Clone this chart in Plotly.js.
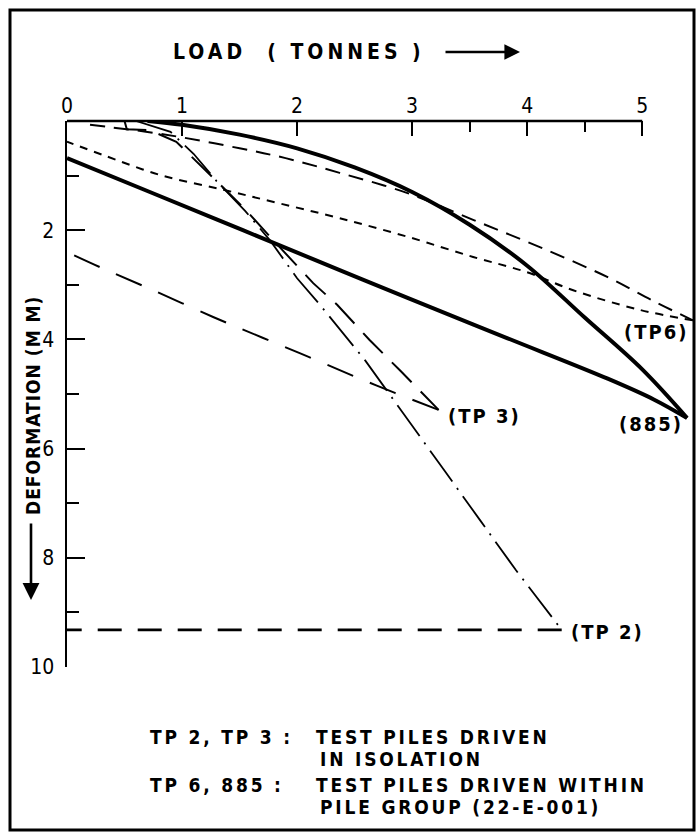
<!DOCTYPE html>
<html>
<head>
<meta charset="utf-8">
<script src="https://cdn.plot.ly/plotly-3.0.1.min.js"></script>
<style>
  html, body { margin: 0; padding: 0; background: #fff; }
  #chart { width: 698px; height: 833px; }
</style>
</head>
<body>
<div id="chart"></div>
<script>
// ---------------- data (load in tonnes, deformation in mm) ----------------
const xTickVals = [0, 1, 2, 3, 4, 5];
const xTickText = ['0', '1', '2', '3', '4', '5'];
const xMinorVals = [3.5, 4.5];
const yTickVals = [2, 4, 6, 8, 10];
const yTickText = ['2', '4', '6', '8', '10'];
const yMinorVals = [1, 3, 5, 7, 9];

// Pile 885 (within group) - loading and unloading
const load885Up   = [0.70, 1.00, 1.50, 2.00, 2.50, 3.00, 3.50, 4.00, 4.50, 5.00, 5.39];
const def885Up    = [0.00, 0.07, 0.25, 0.50, 0.85, 1.30, 1.90, 2.65, 3.60, 4.55, 5.44];
const load885Down = [5.39, 5.10, 4.70, 3.83, 2.96, 2.37, 1.77, 1.30, 0.72, 0.00];
const def885Down  = [5.44, 5.10, 4.72, 3.98, 3.24, 2.73, 2.21, 1.80, 1.30, 0.68];

// TP6 (within group)
const loadTP6Up   = [0.20, 0.40, 0.70, 1.00, 1.50, 1.90, 2.37, 2.96, 3.53, 4.11, 4.70, 5.10, 5.44];
const defTP6Up    = [0.07, 0.12, 0.20, 0.30, 0.50, 0.68, 0.95, 1.32, 1.81, 2.31, 2.86, 3.30, 3.65];
const loadTP6Down = [5.44, 4.98, 4.40, 4.00, 3.53, 2.96, 2.37, 1.83, 1.36, 0.81, 0.31, 0.00];
const defTP6Down  = [3.65, 3.46, 3.10, 2.77, 2.49, 2.12, 1.78, 1.50, 1.26, 0.99, 0.62, 0.38];

// TP3 (isolation)
const loadTP3Up   = [0.50, 0.52, 0.72, 0.95, 1.30, 1.55, 1.80, 2.14, 2.35, 2.63, 2.90, 3.23];
const defTP3Up    = [0.00, 0.15, 0.17, 0.38, 1.10, 1.62, 2.20, 2.97, 3.37, 4.01, 4.58, 5.29];
const loadTP3Down = [3.23, 2.85, 2.49, 2.10, 1.70, 1.27, 0.75, 0.30, 0.00];
const defTP3Down  = [5.29, 4.98, 4.67, 4.32, 3.97, 3.59, 3.10, 2.69, 2.40];

// TP2 (isolation)
const loadTP2Up   = [0.60, 0.90, 1.10, 1.30, 1.55, 1.77, 2.00, 2.20, 2.59, 3.00, 3.29, 3.59, 3.90, 4.30];
const defTP2Up    = [0.00, 0.20, 0.60, 1.10, 1.65, 2.20, 2.88, 3.37, 4.38, 5.57, 6.43, 7.31, 8.22, 9.32];
const loadTP2Down = [4.30, 0.00];
const defTP2Down  = [9.32, 9.32];

// ---------------- layout helpers ----------------
const W = 698, H = 833;
const ML = 67, MR = 4, MT = 121, MB = 166;
const PW = W - ML - MR, PH = H - MT - MB;
const px = v => (v - ML) / PW;
const py = v => (H - MB - v) / PH;
const FONT = '"DejaVu Sans Condensed", "Liberation Sans Narrow", "DejaVu Sans", Arial, sans-serif';

function tr(x, y, width, dash, shape) {
  return {
    type: 'scatter', mode: 'lines', x: x, y: y,
    line: { color: '#000', width: width, dash: dash, shape: shape || 'linear' },
    hoverinfo: 'skip', showlegend: false
  };
}

const traces = [
  tr(load885Up, def885Up, 4, 'solid', 'spline'),
  tr(load885Down, def885Down, 4, 'solid', 'spline'),
  tr(loadTP6Up, defTP6Up, 2, '15px,9px', 'spline'),
  tr(loadTP6Down, defTP6Down, 2, '8px,7px', 'spline'),
  tr(loadTP3Up, defTP3Up, 2, '28px,13px'),
  tr(loadTP3Down, defTP3Down, 2, '28px,18px', 'spline'),
  tr(loadTP2Up, defTP2Up, 1.8, '38px,8px,2px,8px'),
  tr(loadTP2Down, defTP2Down, 2.6, '24px,16px')
];

function sp(text, ls) {
  return '<span style="letter-spacing:' + ls + 'px">' + text + '</span>';
}
function txt(text, x, y, size, ls, anchor, weight) {
  return {
    text: sp(text, ls), xref: 'paper', yref: 'paper', x: px(x), y: py(y),
    xanchor: anchor || 'left', yanchor: 'middle', showarrow: false,
    font: { family: FONT, size: size, color: '#000', weight: weight || 'bold' }
  };
}

const annotations = [
  txt('LOAD&nbsp;&nbsp;( TONNES )', 171, 52, 21, 4, 'left'),
  { text: '', xref: 'paper', yref: 'paper', x: px(520), y: py(52), ax: -76, ay: 0,
    showarrow: true, arrowhead: 2, arrowsize: 1.3, arrowwidth: 2.4, arrowcolor: '#000' },
  { text: sp('DEFORMATION (M M)', 1), xref: 'paper', yref: 'paper', x: px(33), y: py(406),
    textangle: -90, showarrow: false, xanchor: 'center', yanchor: 'middle',
    font: { family: FONT, size: 19, color: '#000', weight: 'bold' } },
  { text: '', xref: 'paper', yref: 'paper', x: px(31), y: py(600), ax: 0, ay: -78,
    showarrow: true, arrowhead: 2, arrowsize: 1.3, arrowwidth: 2.6, arrowcolor: '#000' },
  txt('(TP6)', 622, 332, 20, 2),
  txt('(885)', 617, 424, 20, 2),
  txt('(TP 3)', 446, 416, 20, 2),
  txt('(TP 2)', 569, 632, 20, 2),
  txt('TP 2, TP 3 :', 148, 737, 19, 2.8),
  txt('TEST PILES DRIVEN', 314, 737, 19, 2.8),
  txt('IN ISOLATION', 318, 759, 19, 2.8),
  txt('TP 6, 885 :', 148, 785, 19, 2.8),
  txt('TEST PILES DRIVEN WITHIN', 314, 785, 19, 2.8),
  txt('PILE GROUP (22-E-001)', 318, 807, 19, 2.8)
];

const shapes = [
  // top axis line (only spans 0..5)
  { type: 'line', xref: 'x', yref: 'paper', x0: 0, x1: 5, y0: 1, y1: 1,
    line: { color: '#000', width: 2.5 } },
  // outer frame
  { type: 'rect', xref: 'paper', yref: 'paper',
    x0: px(10), x1: px(694), y0: py(830), y1: py(10),
    line: { color: '#000', width: 3 } }
];

const layout = {
  width: W, height: H,
  margin: { l: ML, r: MR, t: MT, b: MB, pad: 0 },
  paper_bgcolor: '#fff', plot_bgcolor: '#fff',
  font: { family: FONT, color: '#000' },
  showlegend: false,
  xaxis: {
    side: 'top', range: [0, 5.45], showgrid: false, zeroline: false, showline: false,
    ticks: 'inside', ticklen: 15, tickwidth: 2, tickcolor: '#000',
    tickmode: 'array', tickvals: xTickVals, ticktext: xTickText,
    tickfont: { family: FONT, size: 21, color: '#000' },
    ticklabelstandoff: 3,
    minor: { tickmode: 'array', tickvals: xMinorVals, ticks: 'inside', ticklen: 11, tickwidth: 2, tickcolor: '#000', showgrid: false }
  },
  yaxis: {
    range: [10, 0], showgrid: false, zeroline: false,
    showline: true, linewidth: 2.5, linecolor: '#000',
    ticks: 'inside', ticklen: 18, tickwidth: 2, tickcolor: '#000',
    tickmode: 'array', tickvals: yTickVals, ticktext: yTickText,
    tickfont: { family: FONT, size: 21, color: '#000' },
    ticklabelstandoff: 6,
    minor: { tickmode: 'array', tickvals: yMinorVals, ticks: 'inside', ticklen: 12, tickwidth: 2, tickcolor: '#000', showgrid: false }
  },
  shapes: shapes,
  annotations: annotations
};

Plotly.newPlot('chart', traces, layout, { staticPlot: true, displayModeBar: false });
</script>
</body>
</html>
